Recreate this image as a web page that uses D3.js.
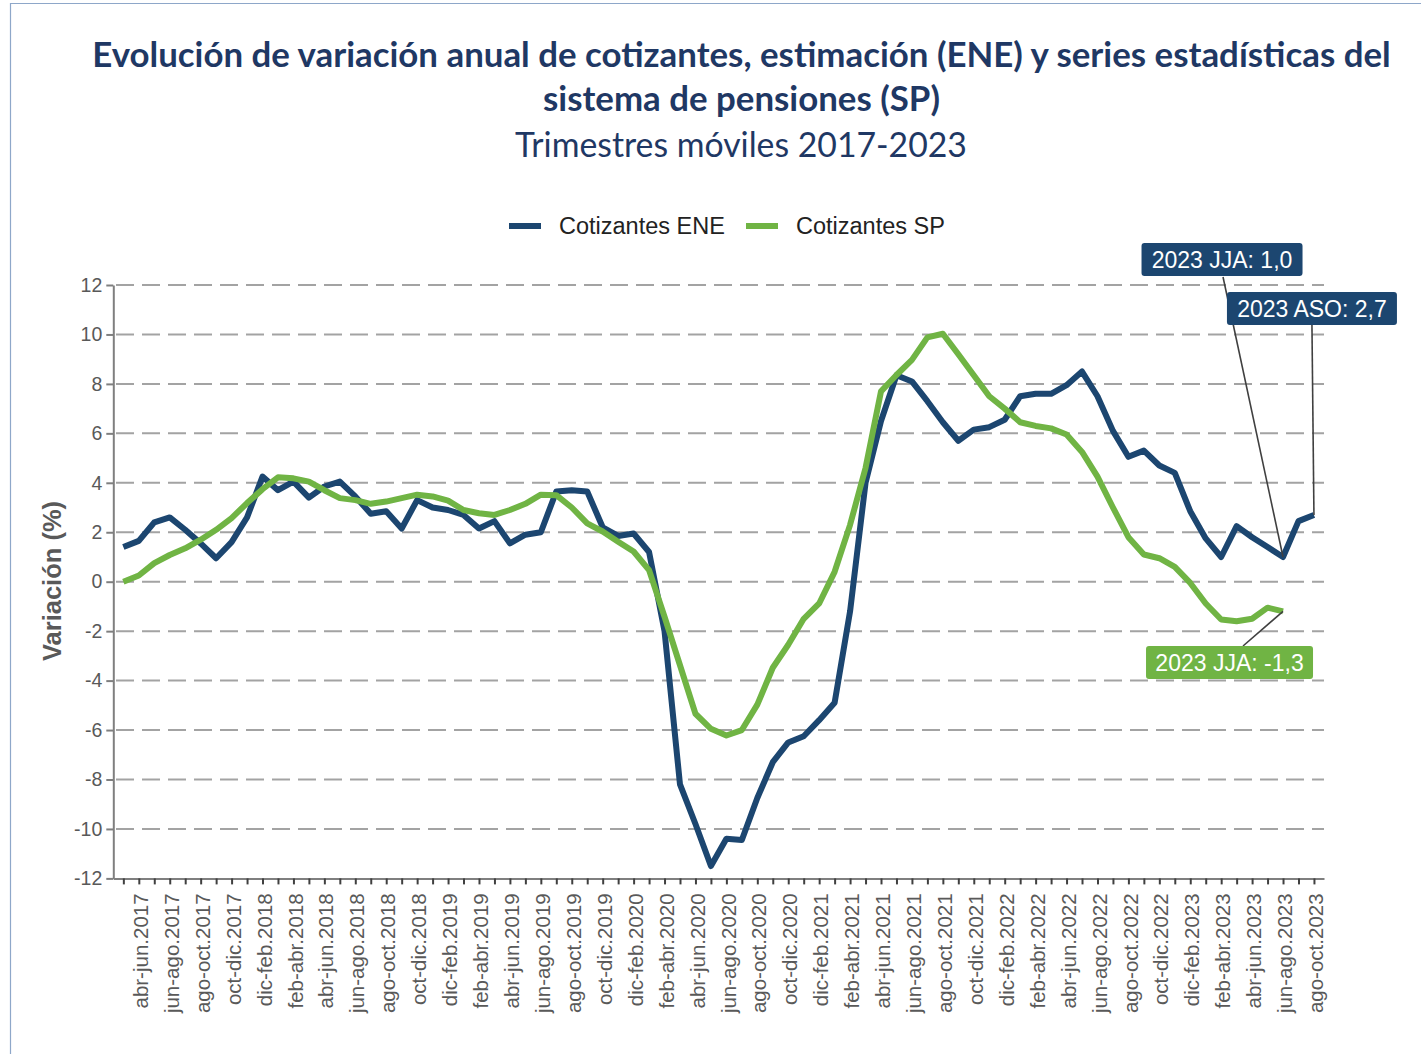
<!DOCTYPE html>
<html>
<head>
<meta charset="utf-8">
<script src="https://cdn.jsdelivr.net/npm/d3@7"></script>
<style>
  body { margin: 0; background: #fff; }
  svg { display: block; }
</style>
</head>
<body>
<svg id="chart" width="1421" height="1054"></svg>
<script>
// trimestres moviles, mar-may.2017 .. ago-oct.2023
const categorias = [
  "mar-may.2017", "abr-jun.2017", "may-jul.2017", "jun-ago.2017", "jul-sep.2017", "ago-oct.2017", "sep-nov.2017", "oct-dic.2017",
  "nov-ene.2018", "dic-feb.2018", "ene-mar.2018", "feb-abr.2018", "mar-may.2018", "abr-jun.2018", "may-jul.2018", "jun-ago.2018", "jul-sep.2018", "ago-oct.2018", "sep-nov.2018", "oct-dic.2018",
  "nov-ene.2019", "dic-feb.2019", "ene-mar.2019", "feb-abr.2019", "mar-may.2019", "abr-jun.2019", "may-jul.2019", "jun-ago.2019", "jul-sep.2019", "ago-oct.2019", "sep-nov.2019", "oct-dic.2019",
  "nov-ene.2020", "dic-feb.2020", "ene-mar.2020", "feb-abr.2020", "mar-may.2020", "abr-jun.2020", "may-jul.2020", "jun-ago.2020", "jul-sep.2020", "ago-oct.2020", "sep-nov.2020", "oct-dic.2020",
  "nov-ene.2021", "dic-feb.2021", "ene-mar.2021", "feb-abr.2021", "mar-may.2021", "abr-jun.2021", "may-jul.2021", "jun-ago.2021", "jul-sep.2021", "ago-oct.2021", "sep-nov.2021", "oct-dic.2021",
  "nov-ene.2022", "dic-feb.2022", "ene-mar.2022", "feb-abr.2022", "mar-may.2022", "abr-jun.2022", "may-jul.2022", "jun-ago.2022", "jul-sep.2022", "ago-oct.2022", "sep-nov.2022", "oct-dic.2022",
  "nov-ene.2023", "dic-feb.2023", "ene-mar.2023", "feb-abr.2023", "mar-may.2023", "abr-jun.2023", "may-jul.2023", "jun-ago.2023", "jul-sep.2023", "ago-oct.2023"
];

// Cotizantes ENE (%)
const cotizantesENE = [
  1.4, 1.65, 2.4, 2.6, 2.1, 1.55, 0.95, 1.6,
  2.6, 4.25, 3.7, 4.05, 3.4, 3.85, 4.05, 3.45, 2.75, 2.85, 2.15, 3.3,
  3.0, 2.9, 2.7, 2.15, 2.45, 1.55, 1.9, 2.0, 3.65, 3.7, 3.65, 2.2,
  1.85, 1.95, 1.2, -2.0, -8.2, -9.8, -11.5, -10.4, -10.45, -8.75, -7.3, -6.5,
  -6.25, -5.6, -4.9, -1.2, 4.0, 6.5, 8.35, 8.1, 7.3, 6.45, 5.7, 6.15,
  6.25, 6.55, 7.5, 7.6, 7.6, 7.95, 8.5, 7.5, 6.1, 5.05, 5.3, 4.7,
  4.4, 2.85, 1.75, 1.0, 2.25, 1.8, 1.4, 1.0, 2.45, 2.7
];

// Cotizantes SP (%)
const cotizantesSP = [
  0.0, 0.25, 0.75, 1.08, 1.35, 1.7, 2.1, 2.57,
  3.18, 3.74, 4.22, 4.18, 4.05, 3.7, 3.38, 3.3, 3.15, 3.24, 3.38, 3.52,
  3.45, 3.28, 2.9, 2.77, 2.7, 2.9, 3.15, 3.52, 3.5, 3.0, 2.36, 2.03,
  1.62, 1.22, 0.47, -1.42, -3.38, -5.34, -5.95, -6.22, -6.0, -4.97, -3.48, -2.55,
  -1.5, -0.88, 0.4, 2.3, 4.6, 7.7, 8.36, 8.97, 9.88, 10.03, 9.2, 8.35,
  7.5, 7.0, 6.45, 6.3, 6.2, 5.95, 5.25, 4.25, 3.0, 1.8, 1.1, 0.95,
  0.6, -0.05, -0.88, -1.53, -1.6, -1.5, -1.05, -1.2
];

const yTicks = [-12, -10, -8, -6, -4, -2, 0, 2, 4, 6, 8, 10, 12];

const series = [
  { nombre: "Cotizantes ENE", valores: cotizantesENE, color: "#1c4670" },
  { nombre: "Cotizantes SP", valores: cotizantesSP, color: "#70b444" }
];

const etiquetas = [
  { texto: "2023 JJA: 1,0", serie: 0, cat: "jun-ago.2023" },
  { texto: "2023 ASO: 2,7", serie: 0, cat: "ago-oct.2023" },
  { texto: "2023 JJA: -1,3", serie: 1, cat: "jun-ago.2023" }
];

const svg = d3.select("#chart");
const textGray = "#595959";
const sans = "'Liberation Sans', Arial, sans-serif";

// marco
svg.append("path")
  .attr("d", "M10.5,1054 V3.5 H1421")
  .attr("fill", "none")
  .attr("stroke", "#8ea7c9")
  .attr("stroke-width", 1.2);

// titulo
function fitWidth(sel, target) {
  let w = sel.node().getComputedTextLength();
  let fs = parseFloat(sel.style("font-size"));
  let nfs = (fs * target) / w;
  sel.style("font-size", nfs + "px");
  return nfs;
}

let t1 = svg.append("text")
  .attr("x", 741.5).attr("y", 67)
  .attr("text-anchor", "middle")
  .style("font-family", "Lato, 'Open Sans', sans-serif")
  .style("font-weight", "bold")
  .style("font-size", "30px")
  .style("fill", "#1f3864")
  .text("Evolución de variación anual de cotizantes, estimación (ENE) y series estadísticas del");
let titleSize = fitWidth(t1, 1299);

svg.append("text")
  .attr("x", 741.5).attr("y", 111)
  .attr("text-anchor", "middle")
  .style("font-family", "Lato, 'Open Sans', sans-serif")
  .style("font-weight", "bold")
  .style("font-size", titleSize + "px")
  .style("fill", "#1f3864")
  .text("sistema de pensiones (SP)");

let t3 = svg.append("text")
  .attr("x", 741).attr("y", 157)
  .attr("text-anchor", "middle")
  .style("font-family", "Lato, 'Open Sans', sans-serif")
  .style("font-size", "32px")
  .style("fill", "#1f3864")
  .text("Trimestres móviles 2017-2023");
fitWidth(t3, 452);

// escalas
const x = d3.scalePoint().domain(categorias).range([113.3, 1324]).padding(0.65);
const y = d3.scaleLinear().domain([-12, 12]).range([878.4, 285]);

// grilla
svg.append("g")
  .selectAll("line")
  .data(yTicks.filter((d) => d !== -12))
  .enter()
  .append("line")
  .attr("x1", 116).attr("x2", 1324)
  .attr("y1", (d) => y(d)).attr("y2", (d) => y(d))
  .attr("stroke", "#a3a3a3")
  .attr("stroke-width", 2)
  .attr("stroke-dasharray", "18,8");

// eje Y
let yAxis = svg.append("g")
  .attr("transform", "translate(113.3,0)")
  .call(d3.axisLeft(y).tickValues(yTicks).tickSize(7).tickSizeOuter(0).tickPadding(4).tickFormat((d) => String(d)));
yAxis.select(".domain").attr("stroke", "#7f7f7f").attr("stroke-width", 2);
yAxis.selectAll(".tick line").attr("stroke", "#7f7f7f").attr("stroke-width", 2);
yAxis.selectAll(".tick text")
  .style("font-family", sans)
  .style("font-size", "19.5px")
  .style("fill", textGray);

svg.append("text")
  .attr("transform", "translate(61,581) rotate(-90)")
  .attr("text-anchor", "middle")
  .style("font-family", sans)
  .style("font-weight", "bold")
  .style("font-size", "25.5px")
  .style("fill", textGray)
  .text("Variación (%)");

// eje X
let xAxis = svg.append("g")
  .attr("transform", "translate(0," + y(-12) + ")")
  .call(d3.axisBottom(x).tickSize(6).tickSizeOuter(0).tickFormat((d, i) => (i % 2 === 1 ? d : "")));
xAxis.select(".domain").attr("stroke", "#7f7f7f").attr("stroke-width", 2);
xAxis.selectAll(".tick line").attr("stroke", "#404040").attr("stroke-width", 2);
xAxis.selectAll(".tick text")
  .attr("transform", "rotate(-90)")
  .attr("x", -15)
  .attr("y", 0)
  .attr("dy", "0.42em")
  .style("text-anchor", "end")
  .style("font-family", sans)
  .style("font-size", "20.5px")
  .style("fill", textGray);

// lineas
let line = d3.line()
  .x((d, i) => x(categorias[i]))
  .y((d) => y(d));

series.forEach(function (s) {
  svg.append("path")
    .datum(s.valores)
    .attr("d", line)
    .attr("fill", "none")
    .attr("stroke", s.color)
    .attr("stroke-width", 6)
    .attr("stroke-linejoin", "round");
});

// leyenda
let legend = svg.append("g").attr("transform", "translate(509,226)");
let legendX = [0, 237];
series.forEach(function (s, i) {
  let g = legend.append("g").attr("transform", "translate(" + legendX[i] + ",0)");
  g.append("line").attr("x1", 0).attr("x2", 32).attr("y1", 0).attr("y2", 0)
    .attr("stroke", s.color).attr("stroke-width", 6);
  g.append("text").attr("x", 50).attr("y", 0).attr("dy", "0.36em")
    .style("font-family", sans)
    .style("font-size", "23.5px")
    .style("fill", "#222")
    .text(s.nombre);
});

// etiquetas de datos
let boxes = [
  { dx: -61, top: 243, w: 161, lx: -60, ly: 277 },
  { dx: -2, top: 292, w: 170, lx: -2, ly: 325 },
  { dx: -53.5, top: 646, w: 167, lx: -40, ly: 646 }
];

etiquetas.forEach(function (e, i) {
  let s = series[e.serie];
  let px = x(e.cat);
  let py = y(s.valores[categorias.indexOf(e.cat)]);
  let b = boxes[i];
  svg.append("line")
    .attr("x1", px + b.lx).attr("y1", b.ly)
    .attr("x2", px).attr("y2", py)
    .attr("stroke", "#404040")
    .attr("stroke-width", 1.6);
});

etiquetas.forEach(function (e, i) {
  let s = series[e.serie];
  let px = x(e.cat);
  let b = boxes[i];
  let g = svg.append("g").attr("transform", "translate(" + (px + b.dx - b.w / 2) + "," + b.top + ")");
  g.append("rect")
    .attr("width", b.w).attr("height", 33)
    .attr("rx", 3).attr("ry", 3)
    .attr("fill", s.color);
  g.append("text")
    .attr("x", b.w / 2).attr("y", 16.5).attr("dy", "0.36em")
    .attr("text-anchor", "middle")
    .style("font-family", sans)
    .style("font-size", "23px")
    .style("fill", "#fff")
    .text(e.texto);
});
</script>
</body>
</html>
